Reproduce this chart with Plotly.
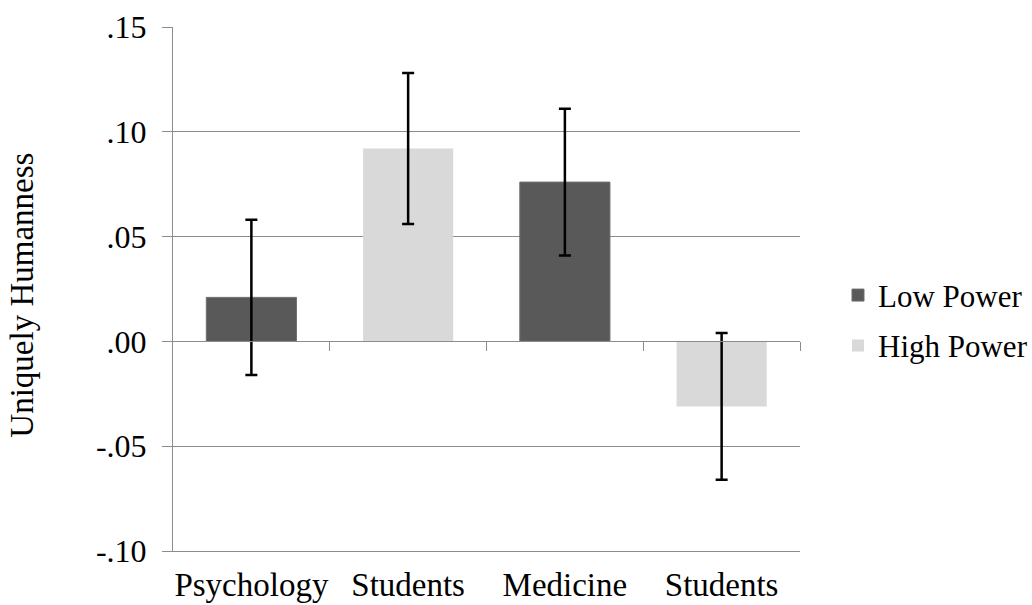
import plotly.graph_objects as go

categories = ["Psychology", "Students", "Medicine", "Students"]
positions = [0, 1, 2, 3]
series_names = ["Low Power", "High Power"]
low_x = [0, 2]
low_values = [0.021, 0.076]
low_errors = [0.037, 0.035]
high_x = [1, 3]
high_values = [0.092, -0.031]
high_errors = [0.036, 0.035]
y_tickvals = [-0.10, -0.05, 0.00, 0.05, 0.10, 0.15]
y_ticktext = ["-.10", "-.05", ".00", ".05", ".10", ".15"]
y_title = "Uniquely Humanness"

FONT = "Times New Roman, Liberation Serif, serif"
GRID = "#8c8c8c"
y_range = [-0.10, 0.15]

fig = go.Figure()
fig.add_trace(go.Bar(
    x=low_x, y=low_values, name=series_names[0], width=0.575,
    marker=dict(color="#595959", line=dict(color="#6e6e6e", width=1)),
    error_y=dict(type="data", array=low_errors, color="black", thickness=2.5, width=6),
    legendgroup="a",
))
fig.add_trace(go.Bar(
    x=high_x, y=high_values, name=series_names[1], width=0.575,
    marker=dict(color="#d9d9d9", line=dict(width=0)),
    error_y=dict(type="data", array=high_errors, color="black", thickness=2.5, width=6),
    legendgroup="b",
))
# invisible trace on xaxis2 to show the zero-crossing category axis
fig.add_trace(go.Scatter(x=positions, y=[None] * 4, xaxis="x2", yaxis="y",
                         showlegend=False, hoverinfo="skip"))

zero_pos = (0 - y_range[0]) / (y_range[1] - y_range[0])

fig.update_layout(
    width=1032, height=605,
    margin=dict(l=173, r=232, t=27, b=54, autoexpand=False),
    plot_bgcolor="white", paper_bgcolor="white",
    barmode="overlay",
    font=dict(family=FONT, size=33, color="black"),
    showlegend=True,
    legend=dict(x=1.0606, y=0.44, xanchor="left", yanchor="middle",
                traceorder="grouped", tracegroupgap=7,
                font=dict(family=FONT, size=31, color="black"),
                itemwidth=30, bgcolor="rgba(0,0,0,0)"),
    xaxis=dict(range=[-0.5, 3.5], tickvals=positions, ticktext=categories,
               showgrid=False, zeroline=False, showline=True, linecolor=GRID,
               linewidth=1, ticks="", ticklabelstandoff=4, automargin=False,
               tickfont=dict(family=FONT, size=33, color="black")),
    xaxis2=dict(range=[-0.5, 3.5], overlaying="x", anchor="free", position=zero_pos,
                showline=True, linecolor=GRID, linewidth=1, showgrid=False,
                zeroline=False, tickvals=[0.5, 1.5, 2.5, 3.5], ticks="outside",
                ticklen=9, tickcolor=GRID, showticklabels=False, automargin=False),
    yaxis=dict(range=y_range, tickvals=y_tickvals, ticktext=y_ticktext,
               showgrid=True, gridcolor=GRID, gridwidth=1, zeroline=False,
               showline=True, linecolor=GRID, linewidth=1, automargin=False,
               ticks="outside", ticklen=10, tickcolor=GRID, ticklabelstandoff=9,
               tickfont=dict(family=FONT, size=32, color="black")),
    annotations=[dict(text=y_title, xref="paper", yref="paper", x=-0.241, y=0.489,
                      xanchor="center", yanchor="middle", textangle=-90,
                      showarrow=False, font=dict(family=FONT, size=33, color="black"))],
)

fig.write_html("out.html", config={"displayModeBar": False},
               post_script="document.body.style.margin='0';")
